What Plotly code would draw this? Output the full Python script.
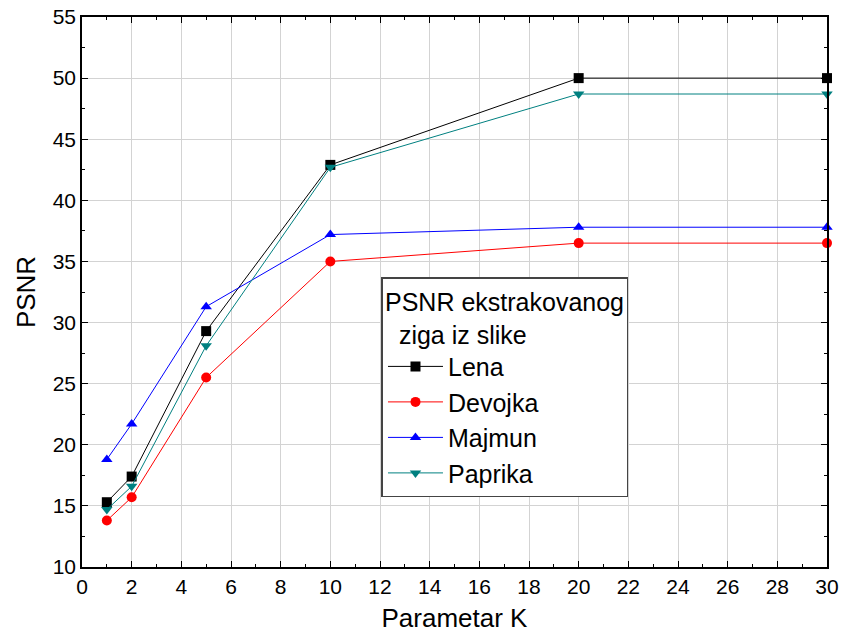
import plotly.graph_objects as go

k_values = [1, 2, 5, 10, 20, 30]
lena = [15.3, 17.4, 29.3, 42.9, 50.0, 50.0]
devojka = [13.8, 15.7, 25.5, 35.0, 36.5, 36.5]
majmun = [18.8, 21.7, 31.3, 37.2, 37.8, 37.8]
paprika = [14.7, 16.6, 28.1, 42.7, 48.7, 48.7]

series = [
    ("Lena", lena, "black", "square"),
    ("Devojka", devojka, "red", "circle"),
    ("Majmun", majmun, "blue", "triangle-up"),
    ("Paprika", paprika, "#008080", "triangle-down"),
]

fig = go.Figure()
for name, vals, col, sym in series:
    fig.add_trace(go.Scatter(
        x=k_values, y=vals, name=name, mode="lines+markers",
        line=dict(color=col, width=1),
        marker=dict(color=col, symbol=sym, size=10),
        cliponaxis=False,
    ))

FONT = "Liberation Sans, Arial"
axis_common = dict(
    showline=True, linecolor="black", linewidth=1.5, mirror="ticks",
    ticks="inside", ticklen=6, tickcolor="black",
    showgrid=True, gridcolor="#d3d3d3", gridwidth=1,
    zeroline=False, automargin=False,
    tickfont=dict(family=FONT, size=21, color="black"),
)

fig.update_xaxes(
    range=[0, 30], dtick=2, tick0=0,
    minor=dict(ticks="inside", ticklen=3, dtick=1, tickcolor="black", showgrid=False),
    title=dict(text="Parametar K", font=dict(family=FONT, size=26, color="black"), standoff=12),
    **axis_common,
)
fig.update_yaxes(
    range=[10, 55], dtick=5, tick0=10,
    minor=dict(ticks="inside", ticklen=3, dtick=2.5, tickcolor="black", showgrid=False),
    title=dict(text="PSNR", font=dict(family=FONT, size=26, color="black"), standoff=10),
    **axis_common,
)

fig.update_layout(
    width=841, height=639,
    margin=dict(l=82, r=14, t=17, b=72),
    paper_bgcolor="white", plot_bgcolor="white",
    font=dict(family=FONT, color="black"),
    legend=dict(
        x=0.402, y=0.527, xanchor="left", yanchor="top",
        bgcolor="white", bordercolor="#444", borderwidth=1.5,
        font=dict(size=25, color="black"),
        title=dict(text="PSNR ekstrakovanog<br>  ziga iz slike", font=dict(size=25, color="black")),
        tracegroupgap=0, itemwidth=55,
    ),
)

fig.write_html("out.html")
